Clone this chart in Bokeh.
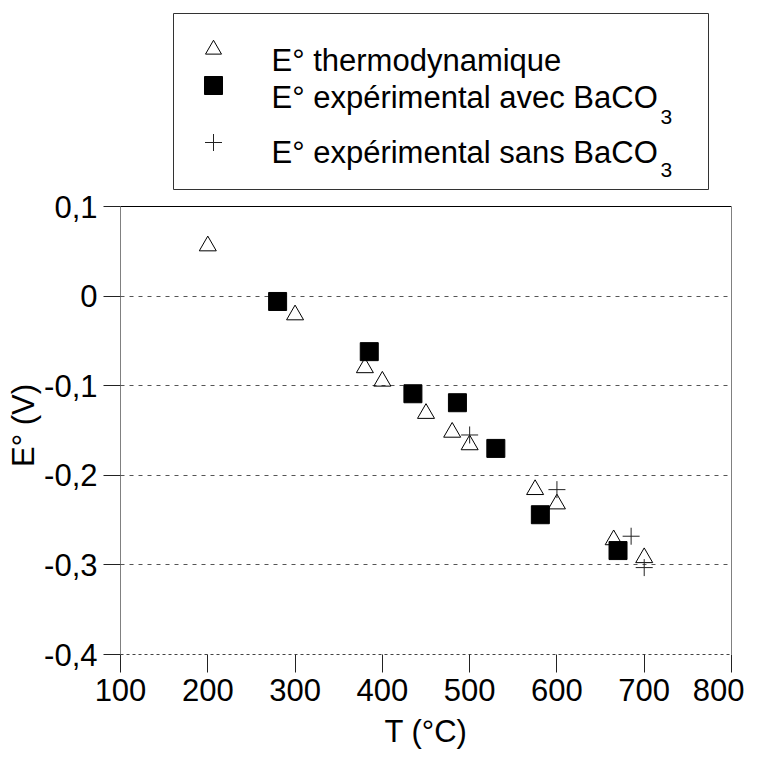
from bokeh.plotting import figure
from bokeh.models import FixedTicker, Span, Range1d, LinearAxis, Title
from bokeh.embed import file_html
from bokeh.resources import INLINE
from bokeh.core.properties import value

# ---- data ----
thermo_T = [200, 300, 380, 400, 450, 480, 500, 575, 600, 665, 700]
thermo_E = [0.056, -0.021, -0.080, -0.095, -0.131, -0.152, -0.166, -0.216, -0.232, -0.272, -0.292]
avec_T = [280, 385, 435, 486, 530, 581, 670]
avec_E = [-0.006, -0.062, -0.109, -0.119, -0.170, -0.244, -0.284]
sans_T = [500, 600, 685, 700]
sans_E = [-0.155, -0.216, -0.268, -0.303]

x_ticks = [100, 200, 300, 400, 500, 600, 700, 800]
y_ticks = [-0.4, -0.3, -0.2, -0.1, 0.0, 0.1]
y_labels = ["-0,4", "-0,3", "-0,2", "-0,1", "0", "0,1"]
grid_ticks = [-0.3, -0.2, -0.1, 0.0]

legend_labels = ["E° thermodynamique", "E° expérimental avec BaCO", "E° expérimental sans BaCO"]
legend_subs = ["3", "3"]

FONT = "Liberation Sans"
FS = "31px"

# ---- layout helpers: canvas pixel -> data units (frame 120..731 x, 0.1 at 206, -0.4 at 654) ----
X0, X1, PX0, PX1 = 100.0, 800.0, 120.0, 731.0
Y0, Y1, PY0, PY1 = -0.4, 0.1, 654.0, 206.0
W, H = 744, 752


def px2x(px):
    return X0 + (px - PX0) * (X1 - X0) / (PX1 - PX0)


def px2y(py):
    return Y0 + (PY0 - py) * (Y1 - Y0) / (PY0 - PY1)


TOP = 10
frame_top = px2y(TOP)  # frame extends upward to hold the legend box

p = figure(width=W, height=H, x_range=Range1d(X0, X1), y_range=Range1d(Y0, frame_top),
           output_backend="svg", toolbar_location=None,
           min_border_left=int(PX0), min_border_right=int(W - PX1), min_border_top=TOP,
           min_border_bottom=int(H - PY0),
           x_axis_label="T (°C)")
p.outline_line_color = None
p.background_fill_color = "white"
p.xgrid.visible = False
p.ygrid.ticker = FixedTicker(ticks=grid_ticks)
p.ygrid.grid_line_color = "#555555"
p.ygrid.grid_line_dash = "4 5"
p.ygrid.grid_line_width = 1

for ax in (p.xaxis[0], p.yaxis[0]):
    ax.major_label_text_font = FONT
    ax.major_label_text_font_size = FS
    ax.major_label_text_color = "black"
    ax.axis_label_text_font = FONT
    ax.axis_label_text_font_size = FS
    ax.axis_label_text_font_style = "normal"
    ax.axis_label_text_color = "black"
    ax.minor_tick_line_color = None
    ax.major_tick_in = 0
    ax.major_tick_line_color = "#222222"

p.xaxis.ticker = FixedTicker(ticks=x_ticks)
p.xaxis.major_tick_out = 18
p.xaxis.axis_line_color = "#444444"
p.xaxis.axis_line_dash = "3 3"
p.xaxis.major_label_standoff = 6
p.xaxis.axis_label_standoff = 10

p.yaxis.ticker = FixedTicker(ticks=y_ticks)
p.yaxis.bounds = (Y0, Y1)
p.yaxis.major_label_overrides = dict(zip(y_ticks, y_labels))
p.yaxis.major_tick_out = 17
p.yaxis.axis_line_color = "#808080"
p.yaxis.major_label_standoff = 6

# y-axis title, centred on the -0.4..0.1 part of the left side (frame also holds the legend)
y_title = "E° (V)"
title_center_px = 425
title_len_px = 83
p.add_layout(Title(text=y_title, align="left", offset=PY0 - (title_center_px + title_len_px / 2),
                   text_font=FONT, text_font_size=FS, text_font_style="normal",
                   text_color="black", standoff=2), "left")

right = LinearAxis(ticker=FixedTicker(ticks=[]), bounds=(Y0, Y1), axis_line_color="#808080",
                   major_tick_line_color=None, minor_tick_line_color=None,
                   major_label_text_font_size="0px")
p.add_layout(right, "right")

p.add_layout(Span(location=Y1, dimension="width", line_color="black", line_width=1))

# ---- data marks ----
p.scatter(thermo_T, thermo_E, marker="triangle", size=17, fill_color=None, line_color="black", line_width=1)
p.scatter(avec_T, avec_E, marker="square", size=18, fill_color="black", line_color="black")
p.scatter(sans_T, sans_E, marker="cross", size=17, line_color="#222222", line_width=1)

# ---- legend box (canvas pixel positions converted to data units) ----
p.quad(left=[px2x(173)], right=[px2x(708)], top=[px2y(13)], bottom=[px2y(189)],
       fill_color=None, line_color="#333333", line_width=1)
mk_x = px2x(213)
p.scatter([mk_x], [px2y(49)], marker="triangle", size=16, fill_color=None, line_color="black", line_width=1)
p.scatter([mk_x], [px2y(85)], marker="square", size=18, fill_color="black", line_color="black")
p.scatter([mk_x], [px2y(142)], marker="cross", size=17, line_color="#222222", line_width=1)
p.text(x=[px2x(271)] * 3, y=[px2y(60), px2y(97), px2y(152)], text=legend_labels,
       text_baseline="alphabetic", text_align="left",
       text_font=value(FONT), text_font_size=FS, text_color="black")
p.text(x=[px2x(660)] * 2, y=[px2y(116), px2y(169)], text=legend_subs,
       text_baseline="alphabetic", text_align="left",
       text_font=value(FONT), text_font_size="21px", text_color="black")

open("out.html", "w").write(file_html(p, INLINE))
